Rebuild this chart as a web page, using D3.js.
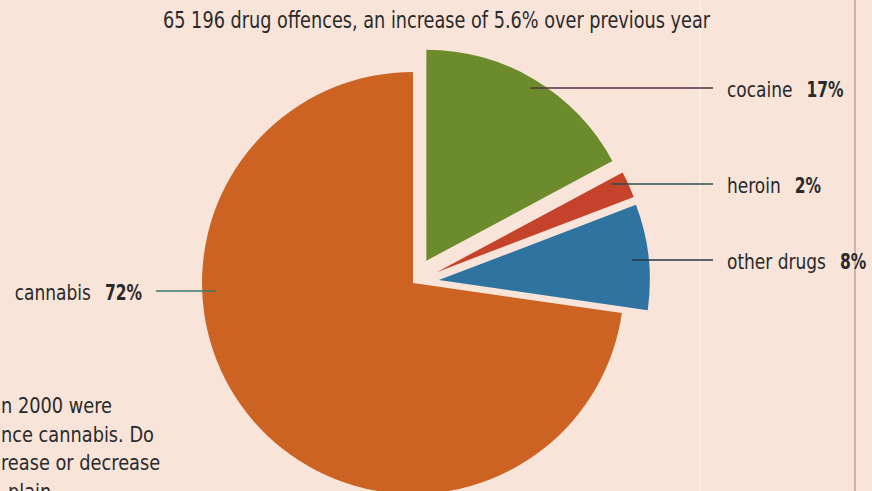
<!DOCTYPE html>
<html>
<head>
<meta charset="utf-8">
<script src="https://cdn.jsdelivr.net/npm/d3@7"></script>
<style>
  html, body { margin: 0; padding: 0; background: #f8e4d9; }
  svg { display: block; }
  text { font-family: "Liberation Sans Narrow", "DejaVu Sans Condensed", sans-serif; fill: #2a2a2a; }
</style>
</head>
<body>
<div id="chart"></div>
<script>
const drugs = ["cocaine", "heroin", "other drugs", "cannabis"];
const shares = [17, 2, 8, 72];
const exploded = [true, true, true, false];
const sliceColors = ["#6b8b2c", "#c4432a", "#2f74a0", "#cc6322"];
const title = "65 196 drug offences, an increase of 5.6% over previous year";
const noteLines = ["n 2000 were", "nce cannabis. Do", "rease or decrease", "plain"];

const width = 872;
const height = 491;
const cx = 413, cy = 283;
const radius = 211;
const explode = 26;

const svg = d3.select("#chart")
    .append("svg")
    .attr("width", width)
    .attr("height", height);

svg.append("rect").attr("width", width).attr("height", height).attr("fill", "#f8e4d9");
// faint page fold + page edge of the scan
svg.append("line").attr("x1", 700).attr("x2", 700).attr("y1", 0).attr("y2", height)
    .attr("stroke", "#fcefe8").attr("stroke-width", 2);
svg.append("line").attr("x1", 855).attr("x2", 855).attr("y1", 0).attr("y2", height)
    .attr("stroke", "#cdb3a8").attr("stroke-width", 2);

// the scanned font is narrower than anything installed, so squeeze a bit
function condense(sel, k) {
    sel.each(function() {
        const w = this.getComputedTextLength();
        this.__w = w * k;
        d3.select(this).attr("textLength", w * k).attr("lengthAdjust", "spacingAndGlyphs");
    });
}

svg.append("text")
    .attr("x", 163)
    .attr("y", 28)
    .attr("font-size", 23)
    .attr("textLength", 547)
    .attr("lengthAdjust", "spacingAndGlyphs")
    .text(title);

const data = drugs.map((d, i) => ({ name: d, value: shares[i], out: exploded[i], color: sliceColors[i] }));

const pie = d3.pie().sort(null).value(d => d.value).startAngle(0).endAngle(2 * Math.PI);
const arc = d3.arc().innerRadius(0).outerRadius(radius);
const arcs = pie(data);

arcs.forEach(a => {
    const mid = (a.startAngle + a.endAngle) / 2;
    const off = a.data.out ? explode : 0;
    a.ox = cx + off * Math.sin(mid);
    a.oy = cy - off * Math.cos(mid);
});

svg.append("g").selectAll("path")
    .data(arcs)
    .enter().append("path")
    .attr("transform", d => `translate(${d.ox},${d.oy})`)
    .attr("d", arc)
    .attr("fill", d => d.data.color);

// label layout: y of the leader line, which side
const labelLayout = {
    "cocaine": { y: 88, side: "right" },
    "heroin": { y: 184, side: "right" },
    "other drugs": { y: 260, side: "right" },
    "cannabis": { y: 291, side: "left" }
};
const lineColors = { "cocaine": "#5a3040", "heroin": "#28504f", "other drugs": "#263a40", "cannabis": "#3a7a6c" };

arcs.forEach(a => {
    const L = labelLayout[a.data.name];
    const dy = L.y - a.oy;
    const dx = Math.sqrt(radius * radius - dy * dy);
    const g = svg.append("g");
    const name = g.append("text").attr("y", L.y + 9).attr("font-size", 21).text(a.data.name);
    const pct = g.append("text").attr("y", L.y + 9).attr("font-size", 21)
        .attr("font-weight", "bold").text(a.data.value + "%");
    condense(name, 0.9);
    condense(pct, 0.82);
    const wn = name.node().__w;
    const wp = pct.node().__w;
    let x1, x2, tx;
    if (L.side === "right") {
        x1 = a.ox + dx - 17; x2 = 713; tx = 727;
    } else {
        x1 = 156; x2 = a.ox - dx + 14; tx = 142 - wp - 14 - wn;
    }
    g.insert("line", "text").attr("x1", x1).attr("x2", x2).attr("y1", L.y).attr("y2", L.y)
        .attr("stroke", lineColors[a.data.name]).attr("stroke-width", 1.3);
    name.attr("x", tx);
    pct.attr("x", tx + wn + 14);
});

svg.append("g").selectAll("text")
    .data(noteLines)
    .enter().append("text")
    .attr("x", (d, i) => i === 3 ? 8 : 1)
    .attr("y", (d, i) => 413 + i * 28.5)
    .attr("font-size", 21)
    .text(d => d)
    .call(condense, 0.94);
</script>
</body>
</html>
